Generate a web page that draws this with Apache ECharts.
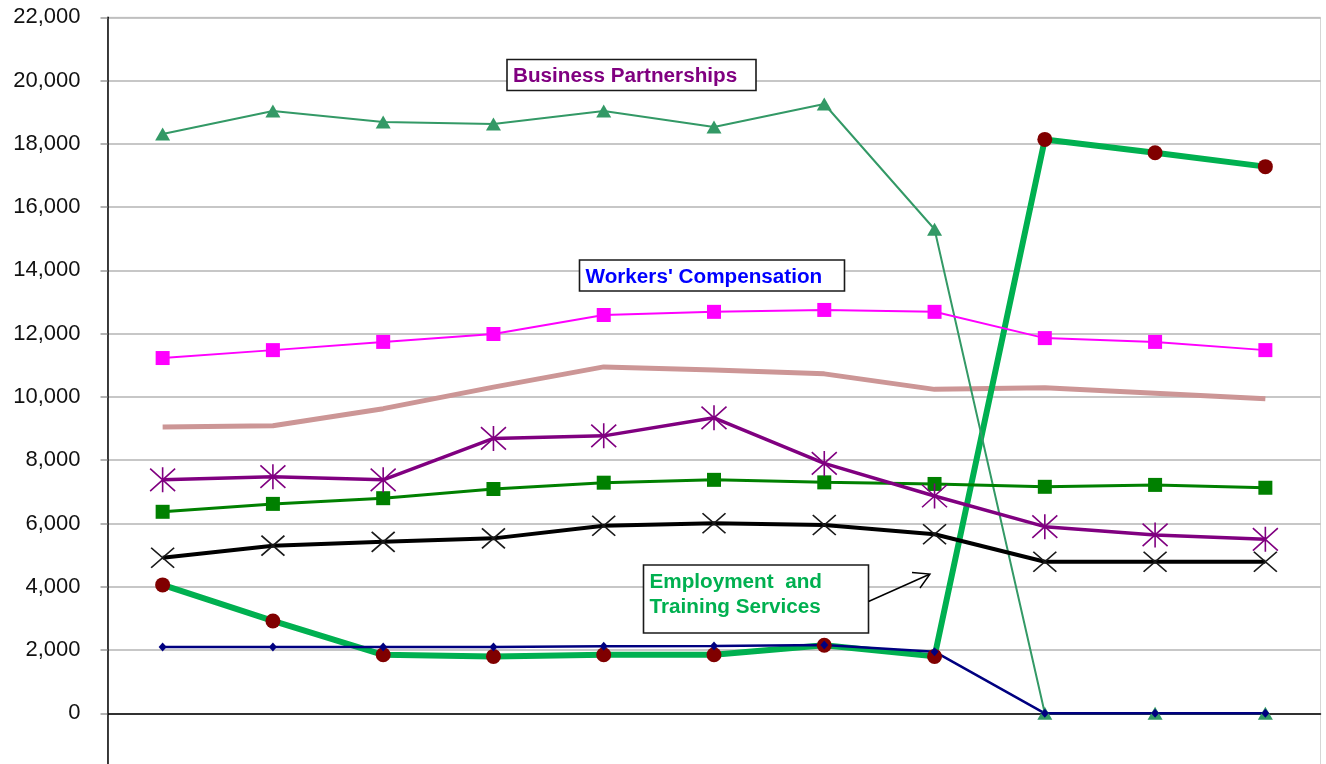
<!DOCTYPE html>
<html>
<head>
<meta charset="utf-8">
<script src="https://cdn.jsdelivr.net/npm/echarts@6/dist/echarts.min.js"></script>
<style>
  html, body { margin: 0; padding: 0; background: #fff; overflow: hidden; }
  #chart { width: 1326px; height: 780px; }
</style>
</head>
<body>
<div id="chart"></div>
<script>
// Eleven reporting periods along the category axis (labels sit below the visible area)
const periods = ['1', '2', '3', '4', '5', '6', '7', '8', '9', '10', '11'];

// Program totals per period
const businessPartnerships = [18310, 19040, 18690, 18630, 19040, 18530, 19260, 15300, 0, 0, 0];
const workersCompensation  = [11230, 11480, 11740, 11990, 12590, 12690, 12750, 12690, 11860, 11740, 11480];
const employmentTraining   = [4060, 2920, 1850, 1800, 1850, 1850, 2150, 1800, 18140, 17720, 17280];
const programRose          = [9050, 9090, 9630, 10310, 10950, 10850, 10730, 10240, 10290, 10120, 9940];
const programPurple        = [7380, 7480, 7380, 8690, 8770, 9340, 7900, 6870, 5900, 5640, 5500];
const programGreen         = [6370, 6620, 6800, 7090, 7290, 7380, 7300, 7250, 7160, 7220, 7130];
const programBlack         = [4920, 5300, 5420, 5530, 5930, 6010, 5950, 5660, 4790, 4790, 4790];
const programNavy          = [2100, 2100, 2100, 2100, 2120, 2130, 2160, 1950, 0, 0, 0];

// Value axis range and step
const yMin = -2000, yMax = 22000, yStep = 2000;

const FONT = '"Liberation Sans", Arial, sans-serif';
const asterisk = 'path://M0,-1L0,1M-0.9,-0.9L0.9,0.9M-0.9,0.9L0.9,-0.9';
const cross = 'path://M-1,-1L1,1M-1,1L1,-1';

const chart = echarts.init(document.getElementById('chart'), null, { renderer: 'canvas' });

function lineSeries(name, data, color, width, symbol, size, itemStyle) {
  return {
    name, type: 'line', data,
    symbol: symbol || 'none',
    symbolSize: size || 0,
    showSymbol: !!symbol,
    lineStyle: { color, width },
    itemStyle: itemStyle || { color, borderWidth: 0 },
    emphasis: { disabled: true },
    z: 2
  };
}

// White annotation box with bold coloured text, drawn above the plot
function labelBox(x, y, w, h, lines, color) {
  const items = [{
    type: 'rect', z: 100, zlevel: 1,
    shape: { x, y, width: w, height: h },
    style: { fill: '#fff', stroke: '#1a1a1a', lineWidth: 1.6 }
  }];
  lines.forEach((t, i) => {
    items.push({
      type: 'text', z: 101, zlevel: 1,
      x: x + 6, y: y + 17 + i * 25,
      style: {
        text: t, fill: color,
        font: 'bold 20.7px ' + FONT,
        verticalAlign: 'middle'
      }
    });
  });
  return items;
}

chart.setOption({
  animation: false,
  backgroundColor: '#fff',
  grid: {
    left: 107.5, top: 17.3, width: 1213, height: 759.3,
    show: true, borderColor: '#d6d6d6', borderWidth: 1, backgroundColor: 'transparent'
  },
  xAxis: {
    type: 'category',
    data: periods,
    boundaryGap: true,
    axisLine: { show: true, onZero: true, lineStyle: { color: '#000', width: 1.5 } },
    axisTick: { show: false },
    axisLabel: { show: false },
    splitLine: { show: false }
  },
  yAxis: {
    type: 'value',
    min: yMin, max: yMax, interval: yStep,
    axisLine: { show: true, onZero: false, lineStyle: { color: '#000', width: 1.5 } },
    axisTick: { show: true, length: 7, lineStyle: { color: '#9a9a9a', width: 1.5 } },
    axisLabel: {
      margin: 27,
      color: '#111',
      fontSize: 22,
      fontFamily: FONT,
      formatter: v => (v < 0 ? '' : v.toLocaleString('en-US'))
    },
    splitLine: { show: true, lineStyle: { color: '#b4b4b4', width: 1.6 } }
  },
  series: [
    lineSeries('Program D', programRose, '#cc9696', 5),
    lineSeries('Employment and Training Services', employmentTraining, '#00b050', 6,
      'circle', 15, { color: '#800000', borderWidth: 0 }),
    lineSeries('Business Partnerships', businessPartnerships, '#339966', 2,
      'triangle', [15, 13], { color: '#339966', borderWidth: 0 }),
    lineSeries("Workers' Compensation", workersCompensation, '#ff00ff', 2,
      'rect', 14, { color: '#ff00ff', borderWidth: 0 }),
    lineSeries('Program F', programGreen, '#008000', 3,
      'rect', 14, { color: '#008000', borderWidth: 0 }),
    lineSeries('Program E', programPurple, '#800080', 3.5,
      asterisk, [25, 25], { color: 'none', borderColor: '#800080', borderWidth: 1.6 }),
    lineSeries('Program G', programBlack, '#000000', 4,
      cross, [23, 20], { color: 'none', borderColor: '#1a1a1a', borderWidth: 1.6 }),
    lineSeries('Program H', programNavy, '#000080', 2.5,
      'diamond', [8, 9], { color: '#000080', borderWidth: 0 })
  ],
  graphic: [
    ...labelBox(507, 59.5, 249, 31, ['Business Partnerships'], '#800080'),
    ...labelBox(579.5, 260, 265, 31, ["Workers' Compensation"], '#0000ff'),
    ...labelBox(643.5, 565, 225, 68, ['Employment  and', 'Training Services'], '#00b050'),
    {
      type: 'line', z: 100, zlevel: 1,
      shape: { x1: 868.5, y1: 601.5, x2: 929, y2: 574.5 },
      style: { stroke: '#000', lineWidth: 1.4 }
    },
    {
      type: 'polyline', z: 100, zlevel: 1,
      shape: { points: [[912, 572.5], [930, 574], [920, 588]] },
      style: { stroke: '#000', lineWidth: 1.4, fill: 'none' }
    }
  ]
});
</script>
</body>
</html>
